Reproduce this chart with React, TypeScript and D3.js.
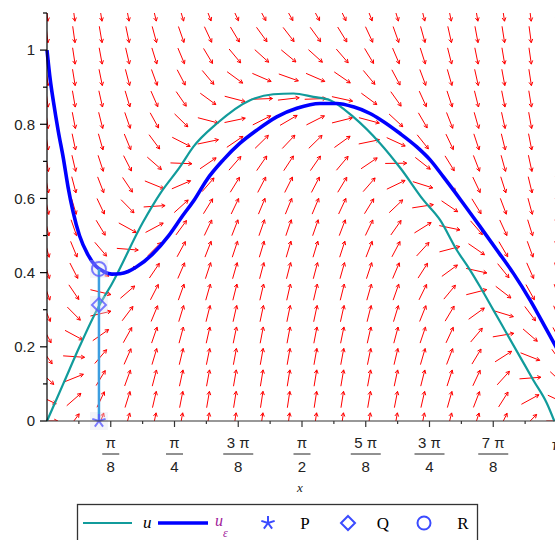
import React from 'react';
import * as d3 from 'd3';

const W = 555, H = 540;
const PI = Math.PI;

// teal curve u
const tealX = [0, 0.1, 0.2, 0.32, 0.4, 0.59, 0.7, 0.819, 0.901, 1.046, 1.251, 1.394, 1.518, 1.641, 1.744, 1.887, 2.051, 2.18, 2.318, 2.421, 2.524, 2.606, 2.668, 2.75, 2.832, 2.914, 2.996, 3.079, 3.125];
const tealU = [0, 0.1, 0.2, 0.31, 0.37, 0.535, 0.615, 0.685, 0.739, 0.802, 0.865, 0.881, 0.883, 0.874, 0.865, 0.82, 0.749, 0.68, 0.596, 0.542, 0.461, 0.407, 0.362, 0.299, 0.236, 0.173, 0.11, 0.048, 0];

// blue curve u_eps
const blueX = [0, 0.02, 0.04, 0.07, 0.1, 0.13, 0.16, 0.2, 0.25, 0.3, 0.35, 0.4, 0.45, 0.5, 0.55, 0.65, 0.75, 0.83, 0.91, 0.984, 1.086, 1.189, 1.292, 1.415, 1.539, 1.682, 1.785, 1.887, 1.99, 2.052, 2.175, 2.278, 2.36, 2.442, 2.545, 2.668, 2.771, 2.873, 2.976, 3.079, 3.1416];
const blueU = [1.0, 0.92, 0.86, 0.78, 0.71, 0.63, 0.565, 0.5, 0.45, 0.418, 0.403, 0.396, 0.397, 0.403, 0.415, 0.45, 0.5, 0.55, 0.598, 0.65, 0.704, 0.749, 0.784, 0.82, 0.843, 0.856, 0.856, 0.847, 0.829, 0.813, 0.775, 0.739, 0.704, 0.658, 0.598, 0.524, 0.461, 0.398, 0.326, 0.245, 0.195];

// points P, Q, R
const pointX = 0.32;
const pointP = 0;
const pointQ = 0.313;
const pointR = 0.41;

const EPS = 0.27;
const GRID_N = 20;

const yTicksMajor = [0, 0.2, 0.4, 0.6, 0.8, 1.0];
const yTickLabels = ['0', '0.2', '0.4', '0.6', '0.8', '1'];
const yTicksMinor = [0.1, 0.3, 0.5, 0.7, 0.9, 1.1];
const xTickNum = ['π', 'π', '3 π', 'π', '5 π', '3 π', '7 π', 'π'];
const xTickDen = ['8', '4', '8', '2', '8', '4', '8', ''];

const legendItems = ['u', 'u_ε', 'P', 'Q', 'R'];

export default function App() {
  const x = d3.scaleLinear().domain([0, PI]).range([47, 557]);
  const y = d3.scaleLinear().domain([0, 1.1]).range([421, 13]);
  const u0 = d3.scaleLinear().domain(tealX).range(tealU).clamp(true);

  const line = d3.line<[number, number]>().x(d => x(d[0])).y(d => y(d[1])).curve(d3.curveMonotoneX);
  const tealPath = line(tealX.map((v, i) => [v, tealU[i]]) as [number, number][]) || '';
  const bluePath = line(blueX.map((v, i) => [v, blueU[i]]) as [number, number][]) || '';

  const gx = d3.range(GRID_N).map(i => i * PI / (GRID_N - 1));
  const gu = d3.range(GRID_N).map(j => j * 1.1 / (GRID_N - 1));
  const dxCell = PI / (GRID_N - 1), duCell = 1.1 / (GRID_N - 1);
  const Lx = 21.5, Ly = 16.5;

  const arrows: string[] = [];
  gx.forEach(xv => {
    gu.forEach(uv => {
      const f = (u0(xv) - uv) / EPS;
      const a = 1 / dxCell, b = f / duCell;
      const n = Math.hypot(a, b);
      const vx = (a / n) * Lx;
      const vy = -(b / n) * Ly;
      const cx = x(xv), cy = y(uv);
      const x1 = cx - vx / 2, y1 = cy - vy / 2, x2 = cx + vx / 2, y2 = cy + vy / 2;
      const ang = Math.atan2(vy, vx);
      const hl = 4, ha = 0.5;
      const hx1 = x2 - hl * Math.cos(ang - ha), hy1 = y2 - hl * Math.sin(ang - ha);
      const hx2 = x2 - hl * Math.cos(ang + ha), hy2 = y2 - hl * Math.sin(ang + ha);
      arrows.push(`M${x1},${y1}L${x2},${y2}M${hx1},${hy1}L${x2},${y2}L${hx2},${hy2}`);
    });
  });

  const xMajor = d3.range(1, 9).map(k => k * PI / 8);
  const xMinor = d3.range(1, 9).map(k => (2 * k - 1) * PI / 16);

  const starPath = (cx: number, cy: number, r: number) =>
    d3.range(5).map(k => {
      const a = -PI / 2 + k * 2 * PI / 5;
      return `M${cx},${cy}L${cx + r * Math.cos(a)},${cy + r * Math.sin(a)}`;
    }).join('');
  const diamondPath = (cx: number, cy: number, r: number) => `M${cx},${cy - r}L${cx + r},${cy}L${cx},${cy + r}L${cx - r},${cy}Z`;

  const px = x(pointX);
  const mk = '#5a5aff';
  const legY = 523;

  return (
    <svg width={W} height={H} style={{ position: 'absolute', left: 0, top: 0, background: '#fff' }} fontFamily="Liberation Sans, Arial, sans-serif">
      <defs>
        <clipPath id="plotclip"><rect x={47} y={13} width={510} height={408} /></clipPath>
      </defs>
      <g clipPath="url(#plotclip)">
        <path d={arrows.join('')} stroke="#ff0000" strokeWidth={1} fill="none" />
      </g>
      <path d={tealPath} stroke="#119b9b" strokeWidth={2.2} fill="none" />
      <path d={bluePath} stroke="#0000ff" strokeWidth={3.6} fill="none" />
      {[pointP, pointQ, pointR].map((v, i) => (
        <rect key={i} x={px - 9} y={y(v) - 9} width={18} height={18} fill="#dde0ee" opacity={0.35} />
      ))}
      <line x1={px} x2={px} y1={y(pointP)} y2={y(pointR)} stroke="#3d9ee0" strokeWidth={2.5} />
      <path d={starPath(px, y(pointP), 7)} stroke={mk} strokeWidth={2} fill="none" opacity={0.8} />
      <path d={diamondPath(px, y(pointQ), 7)} stroke={mk} strokeWidth={2} fill="none" opacity={0.8} />
      <circle cx={px} cy={y(pointR)} r={7} stroke={mk} strokeWidth={2} fill="none" opacity={0.8} />

      {/* axes */}
      <line x1={47} x2={47} y1={13} y2={421} stroke="#000" strokeWidth={1.2} />
      <line x1={47} x2={557} y1={421} y2={421} stroke="#333" strokeWidth={1.2} />
      {yTicksMajor.map((v, i) => (
        <g key={'ym' + i}>
          <line x1={40} x2={47} y1={y(v)} y2={y(v)} stroke="#000" strokeWidth={1.2} />
          <text x={35} y={y(v)} dy="0.35em" textAnchor="end" fontSize={15} fill="#222">{yTickLabels[i]}</text>
        </g>
      ))}
      {yTicksMinor.map((v, i) => (
        <line key={'yn' + i} x1={43} x2={47} y1={y(v)} y2={y(v)} stroke="#000" strokeWidth={1.2} />
      ))}
      {xMajor.map((v, i) => {
        const cx = x(v);
        const fw = xTickNum[i].length > 1 ? 30 : 17;
        return (
          <g key={'xm' + i}>
            <line x1={cx} x2={cx} y1={421} y2={427} stroke="#333" strokeWidth={1.2} />
            {xTickDen[i] ? (
              <>
                <text x={cx} y={448} textAnchor="middle" fontSize={15} fill="#222">{xTickNum[i]}</text>
                <line x1={cx - fw / 2} x2={cx + fw / 2} y1={454} y2={454} stroke="#222" strokeWidth={1} />
                <text x={cx} y={472} textAnchor="middle" fontSize={15} fill="#222">{xTickDen[i]}</text>
              </>
            ) : (
              <text x={cx} y={450} textAnchor="middle" fontSize={15} fill="#222">{xTickNum[i]}</text>
            )}
          </g>
        );
      })}
      {xMinor.map((v, i) => (
        <line key={'xn' + i} x1={x(v)} x2={x(v)} y1={421} y2={424} stroke="#333" strokeWidth={1.2} />
      ))}
      <text x={300} y={492} textAnchor="middle" fontSize={13} fontStyle="italic" fontFamily="Liberation Serif, serif" fill="#222">x</text>

      {/* legend */}
      <rect x={77.5} y={504.5} width={400} height={50} fill="#fff" stroke="#333" strokeWidth={1.3} />
      <line x1={83} x2={132} y1={legY} y2={legY} stroke="#119b9b" strokeWidth={2.2} />
      <text x={143} y={528} fontSize={17} fontStyle="italic" fontFamily="Liberation Serif, serif" fill="#000">{legendItems[0]}</text>
      <line x1={158} x2={208} y1={legY} y2={legY} stroke="#0000ff" strokeWidth={3.6} />
      <text x={215} y={526} fontSize={16} fontStyle="italic" fontFamily="Liberation Serif, serif" fill="#a0209a">u</text>
      <text x={223} y={537} fontSize={12} fontStyle="italic" fontFamily="Liberation Serif, serif" fill="#a0209a">ε</text>
      <path d={starPath(268, legY, 7)} stroke="#3b4bff" strokeWidth={2} fill="none" />
      <text x={305} y={529} textAnchor="middle" fontSize={17} fontFamily="Liberation Serif, serif" fill="#000">{legendItems[2]}</text>
      <path d={diamondPath(348, legY, 7)} stroke="#3b4bff" strokeWidth={2} fill="none" />
      <text x={383} y={529} textAnchor="middle" fontSize={17} fontFamily="Liberation Serif, serif" fill="#000">{legendItems[3]}</text>
      <circle cx={424} cy={legY} r={6.5} stroke="#3b4bff" strokeWidth={2} fill="none" />
      <text x={463} y={529} textAnchor="middle" fontSize={17} fontFamily="Liberation Serif, serif" fill="#000">{legendItems[4]}</text>
    </svg>
  );
}
